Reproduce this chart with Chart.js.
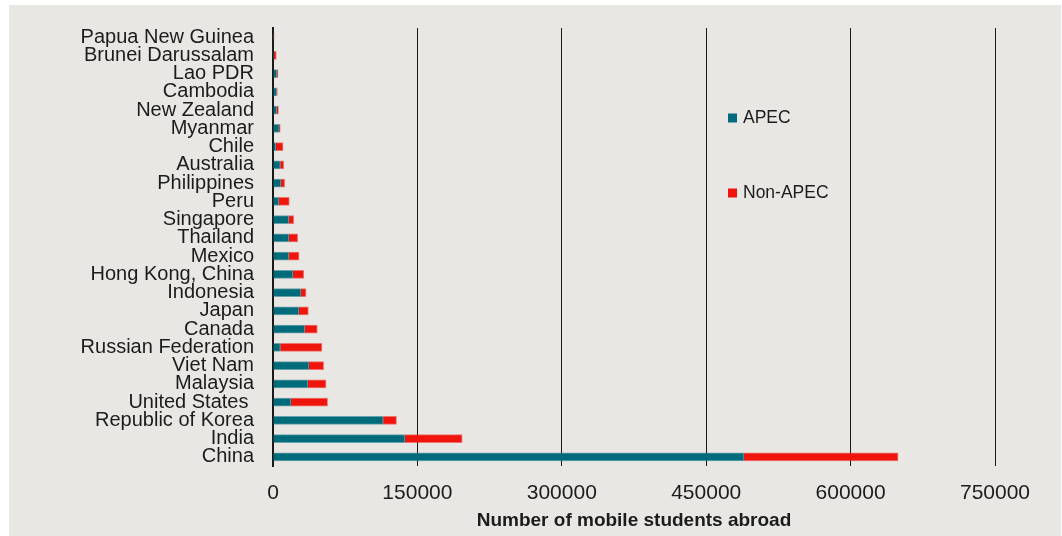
<!DOCTYPE html>
<html>
<head>
<meta charset="utf-8">
<script src="https://cdn.jsdelivr.net/npm/chart.js@4.4.1/dist/chart.umd.min.js"></script>
<style>
  html, body { margin: 0; padding: 0; background: #ffffff; }
  #wrap { width: 1062px; height: 536px; }
</style>
</head>
<body>
<div id="wrap"><canvas id="chart" width="1062" height="536"></canvas></div>
<script>
// Economies, listed top to bottom
const economies = [
  'Papua New Guinea', 'Brunei Darussalam', 'Lao PDR', 'Cambodia', 'New Zealand',
  'Myanmar', 'Chile', 'Australia', 'Philippines', 'Peru', 'Singapore', 'Thailand',
  'Mexico', 'Hong Kong, China', 'Indonesia', 'Japan', 'Canada', 'Russian Federation',
  'Viet Nam', 'Malaysia', 'United States ', 'Republic of Korea', 'India', 'China'
];

// Mobile students studying in APEC destinations
const apecStudents = [
  600, 1000, 4000, 3700, 4000,
  6500, 3100, 7600, 8300, 5900, 16300, 16600,
  16300, 20800, 29100, 27000, 32900, 7600,
  37400, 36300, 18700, 114500, 137100, 489300
];

// Mobile students studying in non-APEC destinations
const nonApecStudents = [
  500, 2400, 800, 700, 1700,
  1000, 7300, 3500, 3800, 11000, 5200, 9000,
  10700, 11100, 5200, 9700, 13100, 43200,
  15200, 18700, 38000, 13800, 59400, 160000
];

// Horizontal axis ticks
const axisTicks = [0, 150000, 300000, 450000, 600000, 750000];

const FONT = "'Liberation Sans', Arial, sans-serif";
const TEXT = '#1c1c1c';

// Grey panel behind the chart
const panelPlugin = {
  id: 'panel',
  beforeDraw(chart) {
    const ctx = chart.ctx;
    ctx.save();
    ctx.fillStyle = '#e8e7e3';
    ctx.fillRect(9, 5, chart.width - 10, chart.height - 5);
    ctx.restore();
  }
};

// Two-entry key placed inside the plotting area
const keyPlugin = {
  id: 'key',
  afterDraw(chart) {
    const ctx = chart.ctx;
    const rows = [118, 193];
    ctx.save();
    ctx.font = '17.5px ' + FONT;
    ctx.textBaseline = 'middle';
    ctx.textAlign = 'left';
    chart.data.datasets.forEach((ds, i) => {
      const y = rows[i];
      ctx.fillStyle = ds.backgroundColor;
      ctx.fillRect(728, y - 4.5, 9, 9);
      ctx.fillStyle = TEXT;
      ctx.fillText(ds.label, 743, y + 0.5);
    });
    ctx.restore();
  }
};

new Chart(document.getElementById('chart'), {
  type: 'bar',
  data: {
    labels: economies,
    datasets: [
      {
        label: 'APEC',
        data: apecStudents,
        backgroundColor: '#006b7b',
        borderColor: 'rgba(0,107,123,0.55)',
        borderWidth: 1,
        borderSkipped: 'start',
        barThickness: 8
      },
      {
        label: 'Non-APEC',
        data: nonApecStudents,
        backgroundColor: '#f0150c',
        borderColor: 'rgba(240,21,12,0.55)',
        borderWidth: 1,
        borderSkipped: 'start',
        barThickness: 8
      }
    ]
  },
  options: {
    indexAxis: 'y',
    responsive: false,
    animation: false,
    events: [],
    layout: { padding: { left: 0, top: 28, right: 67, bottom: 4 } },
    plugins: {
      legend: { display: false },
      tooltip: { enabled: false }
    },
    scales: {
      x: {
        stacked: true,
        min: 0,
        max: 750000,
        afterBuildTicks(scale) {
          scale.ticks = axisTicks.map(v => ({ value: v }));
        },
        afterFit(scale) {
          scale.height = 66;
        },
        grid: {
          color: '#1a1a1a',
          lineWidth: 1,
          drawTicks: false
        },
        border: { display: false },
        ticks: {
          color: TEXT,
          font: { family: FONT, size: 21 },
          padding: 15,
          maxRotation: 0,
          callback: v => String(v)
        },
        title: {
          display: true,
          text: 'Number of mobile students abroad',
          color: TEXT,
          font: { family: FONT, size: 19, weight: 'bold' },
          padding: { top: 4, bottom: 0 }
        }
      },
      y: {
        stacked: true,
        afterFit(scale) {
          scale.width = 273;
          scale.paddingTop = 0;
          scale.paddingBottom = 0;
        },
        grid: { display: false, drawTicks: false },
        border: { display: true, color: '#1a1a1a', width: 2 },
        ticks: {
          color: TEXT,
          font: { family: FONT, size: 20 },
          padding: 19,
          autoSkip: false
        }
      }
    }
  },
  plugins: [panelPlugin, keyPlugin]
});
</script>
</body>
</html>
